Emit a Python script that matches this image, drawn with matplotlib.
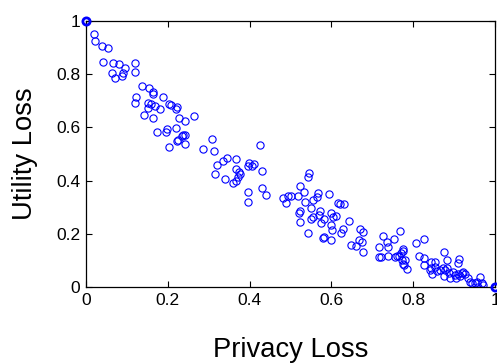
import matplotlib
matplotlib.use("Agg")
import matplotlib.pyplot as plt

plt.rcParams['font.family'] = ['Liberation Sans', 'DejaVu Sans']

# Scatter data: privacy loss (x) vs utility loss (y)
privacy_loss = [
    0.020, 0.023, 0.040, 0.055, 0.043, 0.067, 0.082, 0.095, 0.121, 0.121,
    0.065, 0.071, 0.088, 0.092, 0.138, 0.154, 0.165, 0.165, 0.188, 0.123,
    0.121, 0.151, 0.160, 0.170, 0.153, 0.181, 0.204, 0.207, 0.222, 0.221,
    0.142, 0.165, 0.228, 0.243, 0.264, 0.175, 0.198, 0.197, 0.221, 0.204,
    0.222, 0.226, 0.235, 0.238, 0.243, 0.243, 0.309, 0.287, 0.313, 0.426,
    0.321, 0.334, 0.344, 0.366, 0.316, 0.339, 0.367, 0.375, 0.377, 0.373,
    0.367, 0.359, 0.398, 0.397, 0.405, 0.412, 0.430, 0.397, 0.397, 0.431,
    0.439, 0.482, 0.493, 0.489, 0.502, 0.518, 0.522, 0.532, 0.536, 0.546,
    0.543, 0.554, 0.565, 0.567, 0.595, 0.551, 0.524, 0.521, 0.572, 0.569,
    0.554, 0.551, 0.581, 0.617, 0.622, 0.631, 0.598, 0.603, 0.611, 0.642,
    0.524, 0.575, 0.598, 0.602, 0.624, 0.628, 0.543, 0.579, 0.583, 0.598,
    0.647, 0.659, 0.670, 0.676, 0.668, 0.675, 0.676, 0.715, 0.725, 0.736,
    0.738, 0.753, 0.768, 0.715, 0.722, 0.739, 0.755, 0.760, 0.766, 0.771,
    0.774, 0.776, 0.772, 0.774, 0.777, 0.779, 0.785, 0.806, 0.826, 0.813,
    0.825, 0.827, 0.844, 0.854, 0.841, 0.846, 0.857, 0.865, 0.872, 0.877,
    0.882, 0.875, 0.875, 0.883, 0.888, 0.898, 0.902, 0.904, 0.910, 0.914,
    0.918, 0.912, 0.910, 0.922, 0.926, 0.934, 0.938, 0.943, 0.951, 0.956,
    0.963, 0.967, 0.959, 0.971, 0.890, 0.844, 0.854,
]
utility_loss = [
    0.951, 0.924, 0.905, 0.896, 0.845, 0.843, 0.837, 0.821, 0.841, 0.806,
    0.802, 0.784, 0.794, 0.802, 0.756, 0.747, 0.731, 0.724, 0.713, 0.713,
    0.690, 0.690, 0.686, 0.680, 0.671, 0.668, 0.689, 0.684, 0.677, 0.667,
    0.645, 0.635, 0.636, 0.624, 0.643, 0.581, 0.594, 0.584, 0.599, 0.527,
    0.548, 0.553, 0.569, 0.573, 0.571, 0.537, 0.556, 0.518, 0.512, 0.535,
    0.459, 0.475, 0.485, 0.481, 0.425, 0.406, 0.442, 0.431, 0.424, 0.413,
    0.399, 0.391, 0.466, 0.455, 0.455, 0.461, 0.436, 0.356, 0.321, 0.374,
    0.346, 0.334, 0.342, 0.315, 0.344, 0.344, 0.380, 0.356, 0.320, 0.429,
    0.415, 0.327, 0.338, 0.353, 0.350, 0.296, 0.288, 0.279, 0.286, 0.271,
    0.263, 0.255, 0.255, 0.318, 0.314, 0.312, 0.280, 0.264, 0.267, 0.249,
    0.245, 0.240, 0.234, 0.214, 0.203, 0.218, 0.205, 0.186, 0.187, 0.177,
    0.159, 0.156, 0.218, 0.207, 0.176, 0.171, 0.131, 0.152, 0.194, 0.171,
    0.151, 0.182, 0.213, 0.114, 0.114, 0.117, 0.114, 0.116, 0.118, 0.128,
    0.136, 0.144, 0.104, 0.089, 0.084, 0.101, 0.067, 0.165, 0.180, 0.119,
    0.110, 0.085, 0.094, 0.094, 0.065, 0.049, 0.061, 0.065, 0.071, 0.065,
    0.074, 0.043, 0.134, 0.102, 0.053, 0.056, 0.046, 0.034, 0.049, 0.044,
    0.053, 0.108, 0.090, 0.059, 0.049, 0.036, 0.021, 0.015, 0.015, 0.021,
    0.040, 0.015, 0.002, 0.009, 0.034, 0.072, 0.077,
]
# Extreme points (drawn repeatedly in the original, appearing bold)
end_x = [0.0, 1.0]
end_y = [1.0, 0.0]

x_ticks = [0, 0.2, 0.4, 0.6, 0.8, 1]
x_tick_labels = ["0", "0.2", "0.4", "0.6", "0.8", "1"]
y_ticks = [0, 0.2, 0.4, 0.6, 0.8, 1]
y_tick_labels = ["0", "0.2", "0.4", "0.6", "0.8", "1"]

fig = plt.figure(figsize=(4.97, 3.63), dpi=100)
ax = fig.add_axes([0.1726, 0.2085, 0.8238, 0.7345])

ax.plot(privacy_loss, utility_loss, linestyle='none', marker='o',
        markersize=5.2, markerfacecolor='none', markeredgecolor='#0000ff',
        markeredgewidth=0.8)
ax.plot(end_x, end_y, linestyle='none', marker='o', markersize=5.2,
        markerfacecolor='none', markeredgecolor='#0000ff',
        markeredgewidth=2.0, clip_on=False, zorder=5)

ax.set_xlim(0, 1)
ax.set_ylim(0, 1)
ax.set_xticks(x_ticks)
ax.set_xticklabels(x_tick_labels)
ax.set_yticks(y_ticks)
ax.set_yticklabels(y_tick_labels)
ax.tick_params(direction='in', length=4, width=0.8, top=True, right=True,
               labelsize=12.5, pad=4)
for s in ax.spines.values():
    s.set_linewidth(0.9)

ax.set_xlabel("Privacy Loss", fontsize=19.7)
ax.set_ylabel("Utility Loss", fontsize=19.7)
ax.xaxis.set_label_coords(0.5, -0.186)
ax.yaxis.set_label_coords(-0.117, 0.5)

fig.savefig("out.png", dpi=100)
